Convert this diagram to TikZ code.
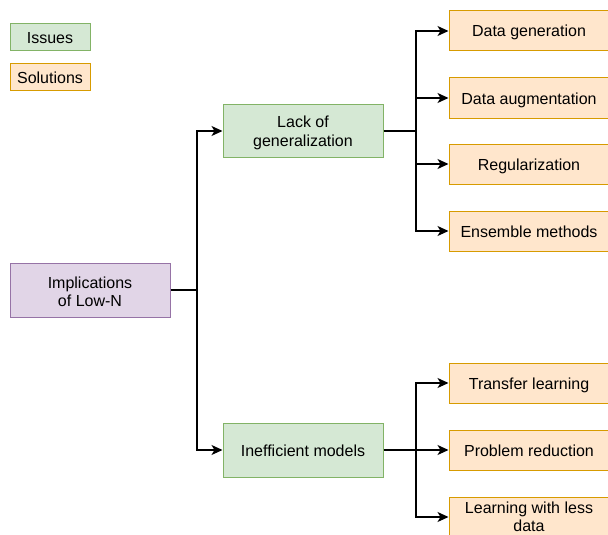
\documentclass[tikz,border=0pt]{standalone}
\usepackage{fontspec}
\setmainfont{Liberation Sans}
\usetikzlibrary{arrows.meta}
\definecolor{gfill}{HTML}{D5E8D4}
\definecolor{gdraw}{HTML}{82B366}
\definecolor{ofill}{HTML}{FFE6CC}
\definecolor{odraw}{HTML}{D79B00}
\definecolor{pfill}{HTML}{E1D5E7}
\definecolor{pdraw}{HTML}{9673A6}
\begin{document}
\begin{tikzpicture}[x=1pt,y=-1pt,
  box/.style={draw, line width=1pt, minimum width=160pt, minimum height=40pt, inner sep=0pt, align=center, font=\fontsize{16}{18.5}\selectfont},
  one/.style={text height=13pt, text depth=1pt},
  two/.style={text height=34pt},
  issue/.style={box, fill=gfill, draw=gdraw},
  sol/.style={box, fill=ofill, draw=odraw},
  impl/.style={box, fill=pfill, draw=pdraw},
  conn/.style={line width=1.3pt, black},
  arr/.style={conn, -{Stealth[length=11pt,width=10pt,inset=3pt]}}]
\useasboundingbox (0,0) rectangle (608,535);
% legend
\node[issue, one, minimum width=80pt, minimum height=27pt] (legI) at (50,37.5) {Issues};
\node[sol, one, minimum width=80pt, minimum height=27pt] (legS) at (50,77.5) {Solutions};
% main
\node[impl, two, minimum height=54pt] (impl) at (90,290) {Implications\\of Low-N};
\node[issue, two, minimum height=53pt] (lack) at (303,131) {Lack of\\generalization};
\node[issue, one, minimum height=54pt] (ineff) at (303,450) {Inefficient models};
% solutions
\node[sol, one] (dg) at (529,31) {Data generation};
\node[sol, one] (da) at (529,98) {Data augmentation};
\node[sol, one] (reg) at (529,164) {Regularization};
\node[sol, one] (ens) at (529,231) {Ensemble methods};
\node[sol, one] (tl) at (529,383) {Transfer learning};
\node[sol, one] (pr) at (529,450) {Problem reduction};
\node[sol] (lw) at (529,517) {Learning with less\\data};
% connectors
\coordinate (j1) at (197,290);
\coordinate (j2) at (416,131);
\coordinate (j3) at (416,450);
\draw[conn] (impl.east) -- (j1);
\draw[arr] (j1) |- (lack.west);
\draw[arr] (j1) |- (ineff.west);
\draw[conn] (lack.east) -- (j2);
\draw[arr] (j2) |- (dg.west);
\draw[arr] (j2) |- (da.west);
\draw[arr] (j2) |- (reg.west);
\draw[arr] (j2) |- (ens.west);
\draw[conn] (ineff.east) -- (j3);
\draw[arr] (j3) |- (tl.west);
\draw[arr] (j3) -- (pr.west);
\draw[arr] (j3) |- (lw.west);
\end{tikzpicture}
\end{document}
